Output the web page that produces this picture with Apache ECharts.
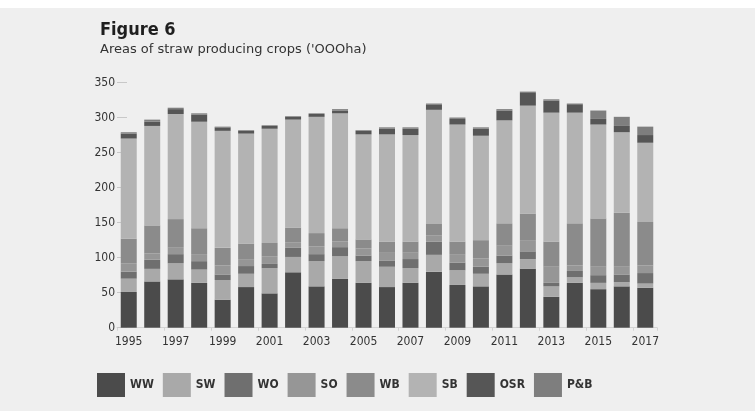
<!DOCTYPE html>
<html>
<head>
<meta charset="utf-8">
<script src="https://cdn.jsdelivr.net/npm/echarts@6/dist/echarts.min.js"></script>
<style>
  html, body { margin: 0; padding: 0; }
  body { background: linear-gradient(#ffffff 0, #ffffff 8px, #efefef 8px); }
  #chart { width: 755px; height: 411px; }
</style>
</head>
<body>
<div id="chart"></div>
<script>
const years = ['1995', '1996', '1997', '1998', '1999', '2000', '2001', '2002', '2003', '2004', '2005', '2006',
  '2007', '2008', '2009', '2010', '2011', '2012', '2013', '2014', '2015', '2016', '2017']

// thousand hectares, bottom of stack first
const ww  = [51, 66, 69, 64, 40, 58, 49, 79, 59, 70, 64, 58, 64, 80, 61, 59, 76, 84, 44, 64, 55, 59, 57]
const sw  = [19, 18, 23, 19, 28, 19, 36, 22, 36, 32, 31, 29, 21, 24, 21, 18, 16, 14, 15, 8, 9, 6, 6]
const wo  = [10, 13, 13, 12, 8, 11, 6, 13, 10, 13, 8, 9, 13, 19, 11, 10, 11, 11, 5, 9, 11, 11, 15]
const so  = [12, 9, 10, 10, 13, 9, 11, 8, 11, 8, 10, 12, 9, 9, 12, 12, 14, 16, 23, 8, 12, 11, 11]
const wb  = [35, 40, 40, 37, 25, 23, 19, 21, 19, 19, 13, 15, 16, 16, 18, 26, 32, 38, 36, 60, 69, 77, 62]
const sb  = [143, 142, 150, 152, 167, 157, 163, 154, 166, 164, 150, 153, 152, 163, 167, 149, 147, 154, 184, 158, 134, 115, 113]
const osr = [7, 6, 7, 10, 5, 4, 4, 4, 4, 4, 5, 8, 9, 7, 8, 10, 14, 18, 17, 12, 8, 9, 11]
const pb  = [2, 3, 2, 2, 1, 1, 1, 1, 1, 2, 1, 2, 2, 2, 2, 2, 2, 2, 2, 1, 12, 13, 12]

const yTicks = [0, 50, 100, 150, 200, 250, 300, 350]

const names = ['WW', 'SW', 'WO', 'SO', 'WB', 'SB', 'OSR', 'P&B']
const colors = ['#4b4b4b', '#a9a9a9', '#6f6f6f', '#969696', '#8b8b8b', '#b3b3b3', '#565656', '#7e7e7e']
const values = [ww, sw, wo, so, wb, sb, osr, pb]

const font = "'DejaVu Sans Condensed', 'Liberation Sans Narrow', 'DejaVu Sans', sans-serif"

const myChart = echarts.init(document.getElementById('chart'))

const option = {
  color: colors,
  textStyle: { fontFamily: font },
  title: {
    text: 'Figure 6',
    subtext: "Areas of straw producing crops ('OOOha)",
    left: 100,
    top: 21,
    padding: 0,
    itemGap: 4,
    textStyle: { fontSize: 18, fontWeight: 'bold', color: '#1e1e1e', fontFamily: font },
    subtextStyle: { fontSize: 13, color: '#333', fontFamily: "'DejaVu Sans', sans-serif" }
  },
  legend: {
    data: names,
    left: 97,
    top: 373,
    padding: 0,
    icon: 'rect',
    itemWidth: 28,
    itemHeight: 24,
    itemGap: 9,
    selectedMode: false,
    textStyle: { fontSize: 12, fontWeight: 'bold', color: '#333', fontFamily: font }
  },
  grid: { left: 117, right: 98, top: 82.5, bottom: 83.3 },
  xAxis: {
    type: 'category',
    data: years,
    axisLine: { lineStyle: { color: '#d4d4d4', width: 1 } },
    axisTick: { show: true, length: 3, lineStyle: { color: '#d4d4d4' } },
    axisLabel: {
      interval: 1,
      margin: 8,
      fontSize: 12,
      color: '#333',
      fontFamily: font
    }
  },
  yAxis: {
    type: 'value',
    min: yTicks[0],
    max: yTicks[yTicks.length - 1],
    interval: 50,
    axisLine: { show: false },
    axisTick: { show: true, inside: true, length: 10, lineStyle: { color: '#c8c8c8' } },
    splitLine: { show: false },
    axisLabel: {
      margin: 2,
      fontSize: 12,
      color: '#333',
      fontFamily: font,
      formatter: function (v) { return yTicks.indexOf(v) >= 0 ? String(v) : '' }
    }
  },
  series: names.map(function (name, i) {
    return {
      name: name,
      type: 'bar',
      stack: 'crops',
      barWidth: 16,
      data: values[i],
      itemStyle: { color: colors[i] }
    }
  })
}

myChart.setOption(option)
</script>
</body>
</html>
